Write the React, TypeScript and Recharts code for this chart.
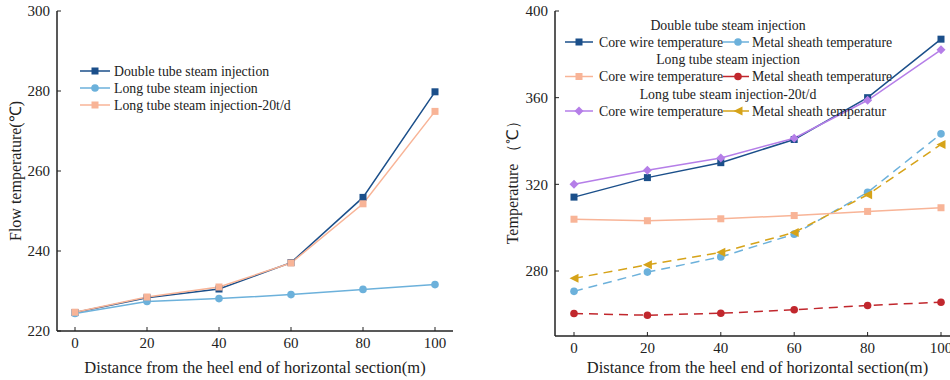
import React from 'react';
import { LineChart, Line, XAxis, YAxis, Legend } from 'recharts';

// distance from heel end (m)
const distances = [0, 20, 40, 60, 80, 100];

// left panel: flow temperature
const flowDoubleTube = [224.6, 228.3, 230.5, 237.1, 253.4, 279.8];
const flowLongTube = [224.4, 227.4, 228.1, 229.1, 230.4, 231.6];
const flowLongTube20 = [224.7, 228.5, 231.0, 237.0, 251.8, 274.9];

// right panel: core wire / metal sheath temperature
const doubleCore = [314.1, 323.1, 330.0, 340.7, 360.0, 387.0];
const doubleSheath = [270.6, 279.5, 286.5, 297.0, 316.3, 343.3];
const longCore = [303.9, 303.2, 304.1, 305.6, 307.5, 309.2];
const longSheath = [260.4, 259.6, 260.5, 262.1, 264.1, 265.6];
const long20Core = [320.0, 326.5, 332.2, 341.3, 358.8, 382.1];
const long20Sheath = [276.6, 282.9, 288.6, 297.8, 315.2, 338.4];

const leftTicks = [220, 240, 260, 280, 300];
const rightTicks = [280, 320, 360, 400];
const xTicks = [0, 20, 40, 60, 80, 100];

const NAVY = '#1b4f8a';
const SKY = '#6cb1db';
const SALMON = '#f8b497';
const RED = '#c1272d';
const PURPLE = '#b57ee8';
const GOLD = '#d6a319';

const FONT = '"Liberation Serif", "Times New Roman", serif';

const leftData = distances.map((d, i) => ({
  d,
  doubleTube: flowDoubleTube[i],
  longTube: flowLongTube[i],
  longTube20: flowLongTube20[i],
}));

const rightData = distances.map((d, i) => ({
  d,
  doubleCore: doubleCore[i],
  doubleSheath: doubleSheath[i],
  longCore: longCore[i],
  longSheath: longSheath[i],
  long20Core: long20Core[i],
  long20Sheath: long20Sheath[i],
}));

type Shape = 'square' | 'circle' | 'diamond' | 'triangleLeft';

function Marker({ cx, cy, shape, color, size = 7 }: any) {
  if (cx == null || cy == null) return null;
  const h = size / 2;
  if (shape === 'square') {
    return <rect x={cx - h} y={cy - h} width={size} height={size} fill={color} />;
  }
  if (shape === 'circle') {
    return <circle cx={cx} cy={cy} r={h + 0.3} fill={color} />;
  }
  if (shape === 'diamond') {
    const r = h + 1;
    return <polygon points={`${cx},${cy - r} ${cx + r},${cy} ${cx},${cy + r} ${cx - r},${cy}`} fill={color} />;
  }
  const r = h + 1;
  return <polygon points={`${cx - r},${cy} ${cx + r},${cy - r} ${cx + r},${cy + r}`} fill={color} />;
}

const dot = (shape: Shape, color: string) => (p: any) => (
  <Marker key={`m-${p.index}`} cx={p.cx} cy={p.cy} shape={shape} color={color} />
);

const leftLegendItems = [
  { name: 'Double tube steam injection', color: NAVY, shape: 'square' as Shape },
  { name: 'Long tube steam injection', color: SKY, shape: 'circle' as Shape },
  { name: 'Long tube steam injection-20t/d', color: SALMON, shape: 'square' as Shape },
];

const rightLegendGroups = [
  {
    title: 'Double tube steam injection',
    core: { name: 'Core wire temperature', color: NAVY, shape: 'square' as Shape },
    sheath: { name: 'Metal sheath temperature', color: SKY, shape: 'circle' as Shape },
  },
  {
    title: 'Long tube steam injection',
    core: { name: 'Core wire temperature', color: SALMON, shape: 'square' as Shape },
    sheath: { name: 'Metal sheath temperature', color: RED, shape: 'circle' as Shape },
  },
  {
    title: 'Long tube steam injection-20t/d',
    core: { name: 'Core wire temperature', color: PURPLE, shape: 'diamond' as Shape },
    sheath: { name: 'Metal sheath temperatur', color: GOLD, shape: 'triangleLeft' as Shape },
  },
];

const LEGEND_FS = 13.8;

function LegendEntry({ x0, x1, mx, tx, y, item }: any) {
  return (
    <g>
      <line x1={x0} x2={x1} y1={y} y2={y} stroke={item.color} strokeWidth={1.5} />
      <Marker cx={mx} cy={y} shape={item.shape} color={item.color} />
      <text x={tx} y={y + 4.5} fontSize={LEGEND_FS} fontFamily={FONT} fill="#222">
        {item.name}
      </text>
    </g>
  );
}

function LeftLegend() {
  return (
    <svg width={260} height={60}>
      {leftLegendItems.map((it, i) => (
        <LegendEntry key={it.name} x0={5} x1={35} mx={20} tx={39} y={11 + i * 17} item={it} />
      ))}
    </svg>
  );
}

function RightLegend() {
  return (
    <svg width={360} height={110}>
      {rightLegendGroups.map((g, i) => {
        const ty = 11 + i * 34.5;
        const ry = ty + 17;
        return (
          <g key={g.title}>
            <text x={173} y={ty + 4.5} textAnchor="middle" fontSize={LEGEND_FS} fontFamily={FONT} fill="#222">
              {g.title}
            </text>
            <LegendEntry x0={10} x1={38} mx={24} tx={44} y={ry} item={g.core} />
            <LegendEntry x0={168} x1={194} mx={183} tx={197} y={ry} item={g.sheath} />
          </g>
        );
      })}
    </svg>
  );
}

const tickStyle = { fontSize: 15, fontFamily: FONT, fill: '#222' };

const xTitle = (dy: number) => (props: any) => {
  const vb = props.viewBox || {};
  return (
    <text x={vb.x + vb.width / 2} y={vb.y + dy} textAnchor="middle" fontSize={16.5} fontFamily={FONT} fill="#222">
      Distance from the heel end of horizontal section(m)
    </text>
  );
};

const yTitle = (text: string, dx: number, dyc: number) => (props: any) => {
  const vb = props.viewBox || {};
  const x = vb.x + dx;
  const y = vb.y + vb.height / 2 + dyc;
  return (
    <text x={x} y={y} transform={`rotate(-90, ${x}, ${y})`} textAnchor="middle" dominantBaseline="central" fontSize={16} fontFamily={FONT} fill="#222">
      {text}
    </text>
  );
};

export default function App() {
  return (
    <div style={{ position: 'absolute', left: 0, top: 0, width: 950, height: 380, overflow: 'hidden', background: '#fff' }}>
      <div style={{ position: 'absolute', left: 0, top: 0 }}>
        <LineChart width={475} height={380} data={leftData} margin={{ top: 11, right: 22, bottom: 0, left: 0 }}>
          <XAxis
            dataKey="d"
            type="number"
            domain={[0, 100]}
            ticks={xTicks}
            padding={{ left: 18, right: 18 }}
            height={49}
            tickSize={-4}
            tickMargin={10}
            tick={tickStyle}
            axisLine={{ stroke: '#222', strokeWidth: 1.5 }}
            tickLine={{ stroke: '#222' }}
            label={xTitle(42)}
          />
          <XAxis xAxisId="top" orientation="top" dataKey="d" type="number" domain={[0, 100]} height={0} tick={false} tickLine={false} axisLine={{ stroke: '#808080', strokeWidth: 2 }} />
          <YAxis
            domain={[220, 300]}
            ticks={leftTicks}
            width={57}
            tickSize={-4}
            tickMargin={11}
            tick={tickStyle}
            axisLine={{ stroke: '#222', strokeWidth: 1.5 }}
            tickLine={{ stroke: '#222' }}
            label={yTitle('Flow temperature(℃)', 15, 0)}
          />
          <YAxis yAxisId="right" orientation="right" domain={[220, 300]} width={0} tick={false} tickLine={false} axisLine={{ stroke: '#808080', strokeWidth: 2 }} />
          <Legend layout="horizontal" verticalAlign="middle" content={() => <LeftLegend />} wrapperStyle={{ left: 75, top: 60, width: 260, height: 60 }} />
          <Line dataKey="doubleTube" stroke={NAVY} strokeWidth={1.5} dot={dot('square', NAVY)} isAnimationActive={false} />
          <Line dataKey="longTube" stroke={SKY} strokeWidth={1.5} dot={dot('circle', SKY)} isAnimationActive={false} />
          <Line dataKey="longTube20" stroke={SALMON} strokeWidth={1.5} dot={dot('square', SALMON)} isAnimationActive={false} />
        </LineChart>
      </div>
      <div style={{ position: 'absolute', left: 475, top: 0 }}>
        <LineChart width={490} height={380} data={rightData} margin={{ top: 11, right: 5, bottom: 0, left: 0 }}>
          <XAxis
            dataKey="d"
            type="number"
            domain={[0, 100]}
            ticks={xTicks}
            padding={{ left: 19, right: 19 }}
            height={44}
            tickSize={-4}
            tickMargin={10}
            tick={tickStyle}
            axisLine={{ stroke: '#222', strokeWidth: 1.5 }}
            tickLine={{ stroke: '#222' }}
            label={xTitle(37)}
          />
          <XAxis xAxisId="top" orientation="top" dataKey="d" type="number" domain={[0, 100]} height={0} tick={false} tickLine={false} axisLine={{ stroke: '#808080', strokeWidth: 2 }} />
          <YAxis
            domain={[250, 400]}
            ticks={rightTicks}
            width={80}
            tickSize={-4}
            tickMargin={11}
            tick={tickStyle}
            axisLine={{ stroke: '#222', strokeWidth: 1.5 }}
            tickLine={{ stroke: '#222' }}
            label={yTitle('Temperature （℃）', 37, 5)}
          />
          <Legend layout="horizontal" verticalAlign="middle" content={() => <RightLegend />} wrapperStyle={{ left: 80, top: 14, width: 360, height: 110 }} />
          <Line dataKey="doubleCore" stroke={NAVY} strokeWidth={1.5} dot={dot('square', NAVY)} isAnimationActive={false} />
          <Line dataKey="doubleSheath" stroke={SKY} strokeWidth={1.5} strokeDasharray="9 6" dot={dot('circle', SKY)} isAnimationActive={false} />
          <Line dataKey="longCore" stroke={SALMON} strokeWidth={1.5} dot={dot('square', SALMON)} isAnimationActive={false} />
          <Line dataKey="longSheath" stroke={RED} strokeWidth={1.5} strokeDasharray="9 6" dot={dot('circle', RED)} isAnimationActive={false} />
          <Line dataKey="long20Core" stroke={PURPLE} strokeWidth={1.5} dot={dot('diamond', PURPLE)} isAnimationActive={false} />
          <Line dataKey="long20Sheath" stroke={GOLD} strokeWidth={1.5} strokeDasharray="9 6" dot={dot('triangleLeft', GOLD)} isAnimationActive={false} />
        </LineChart>
      </div>
    </div>
  );
}
